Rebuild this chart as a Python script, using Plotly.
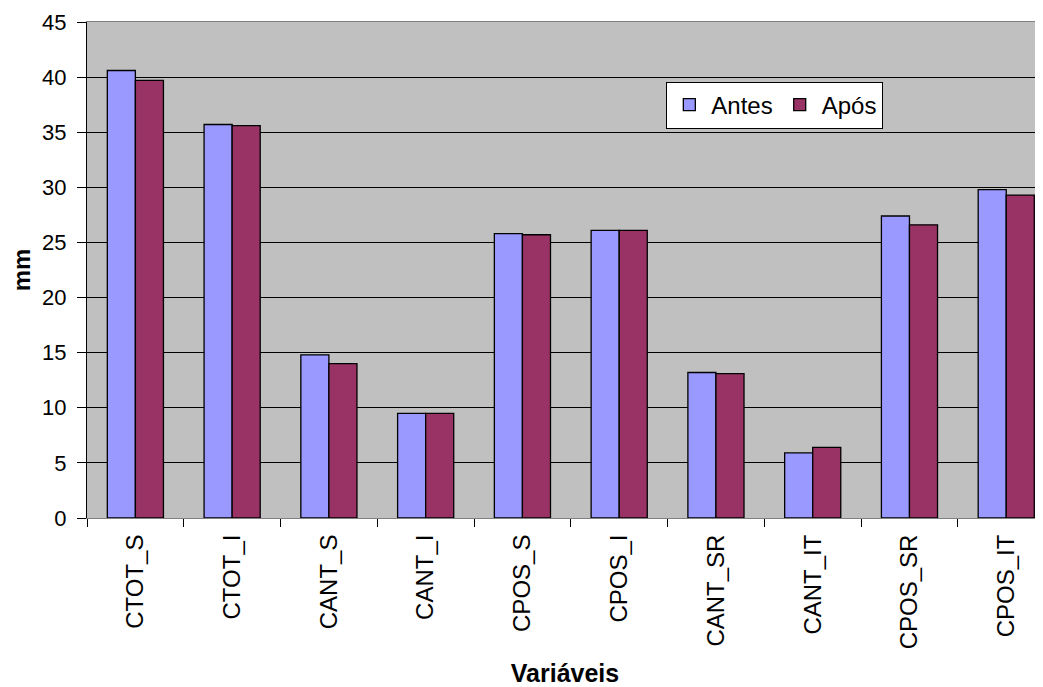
import plotly.graph_objects as go

categories = ["CTOT_S", "CTOT_I", "CANT_S", "CANT_I", "CPOS_S", "CPOS_I",
              "CANT_SR", "CANT_IT", "CPOS_SR", "CPOS_IT"]
antes = [40.6, 35.7, 14.8, 9.5, 25.8, 26.1, 13.2, 5.9, 27.4, 29.8]
apos = [39.7, 35.6, 14.0, 9.5, 25.7, 26.1, 13.1, 6.4, 26.6, 29.3]
y_ticks = [0, 5, 10, 15, 20, 25, 30, 35, 40, 45]

FONT = "Liberation Sans, Arial, sans-serif"

fig = go.Figure()
fig.add_trace(go.Bar(name="Antes", x=categories, y=antes,
                     marker=dict(color="#9999FF", line=dict(color="black", width=1.3))))
fig.add_trace(go.Bar(name="Após", x=categories, y=apos,
                     marker=dict(color="#993366", line=dict(color="black", width=1.3))))

# page body has an 8px margin, so the figure is sized/offset to compensate
fig.update_layout(
    width=1035, height=679,
    margin=dict(l=79, r=0, t=14, b=169, pad=0),
    paper_bgcolor="white", plot_bgcolor="#C0C0C0",
    barmode="group", bargap=0.42, bargroupgap=0,
    font=dict(family=FONT, size=22, color="black"),
    legend=dict(orientation="h", x=0.606, y=0.88, xanchor="left", yanchor="top",
                bgcolor="white", bordercolor="black", borderwidth=1,
                font=dict(size=24), itemwidth=34, traceorder="normal"),
    xaxis=dict(type="category", range=[-0.5, 9.38], tickson="boundaries",
               ticks="outside", ticklen=8, tickcolor="black", tickangle=-90,
               ticklabelstandoff=6,
               showline=True, linecolor="#808080", linewidth=1, mirror=True,
               showgrid=False, automargin=False,
               title=dict(text="<b>Variáveis</b>", font=dict(size=25), standoff=18),
               tickfont=dict(size=24)),
    yaxis=dict(range=[0, 45], tickvals=y_ticks, ticks="outside", ticklen=9,
               ticklabelstandoff=6,
               tickcolor="black", showline=True, linecolor="black", linewidth=1,
               showgrid=True, gridcolor="black", gridwidth=1, zeroline=False,
               automargin=False,
               title=dict(text="<b>mm</b>", font=dict(size=24), standoff=10),
               tickfont=dict(size=22)),
)
fig.write_html("out.html")
